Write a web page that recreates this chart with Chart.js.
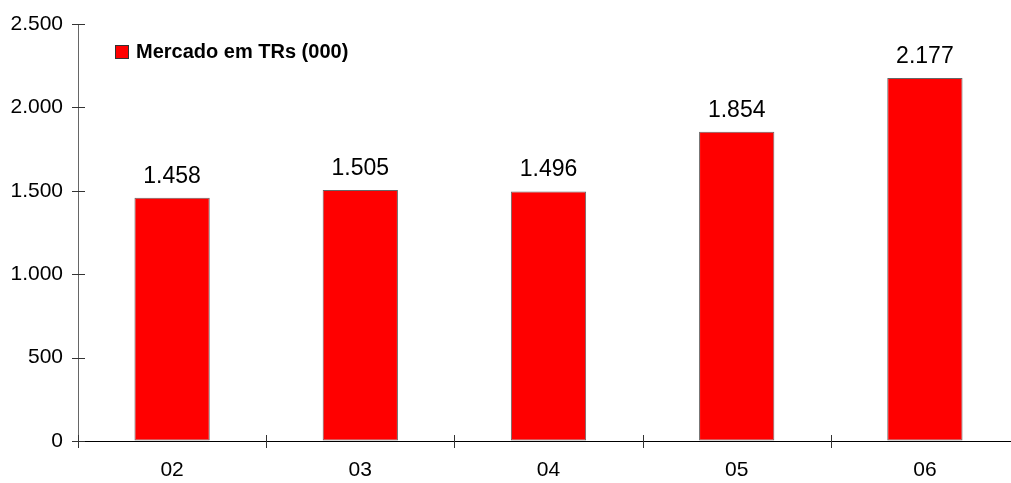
<!DOCTYPE html>
<html><head><meta charset="utf-8">
<script src="https://cdn.jsdelivr.net/npm/chart.js@4/dist/chart.umd.min.js"></script>
<style>
html,body{margin:0;padding:0;background:#fff;overflow:hidden;}
#wrap{width:1011px;height:483px;overflow:hidden;position:relative;}
canvas{display:block;}
</style></head><body>
<div id="wrap"><canvas id="c" width="1030" height="483"></canvas></div>
<script>
const categories = ['02','03','04','05','06'];
const seriesLabel = 'Mercado em TRs (000)';
const values = [1458, 1505, 1496, 1854, 2177];
const yMin = 0, yMax = 2500, yStep = 500;

const FONT = '"Liberation Sans", Arial, sans-serif';
function fmt(v){ return String(v).replace(/\B(?=(\d{3})+(?!\d))/g, '.'); }

const labelPlugin = {
  id: 'labels',
  afterDraw(chart){
    const ctx = chart.ctx;
    const meta = chart.getDatasetMeta(0);
    const ys = chart.scales.y, xs = chart.scales.x;
    const ca = chart.chartArea;
    ctx.save();
    ctx.strokeStyle = '#333';
    ctx.lineWidth = 1;
    // crossing tick marks on the value axis
    ys.ticks.forEach(t => {
      const py = Math.round(ys.getPixelForValue(t.value)) + 0.5;
      ctx.beginPath();
      ctx.moveTo(ca.left - 6, py);
      ctx.lineTo(ca.left + 7, py);
      ctx.stroke();
    });
    // crossing tick marks on the category axis (at category boundaries)
    const step = xs.getPixelForValue(1) - xs.getPixelForValue(0);
    for (let i = 0; i <= categories.length; i++) {
      const px = Math.round(xs.getPixelForValue(i) - step / 2) + 0.5;
      ctx.beginPath();
      ctx.moveTo(px, ca.bottom - 6);
      ctx.lineTo(px, ca.bottom + 7);
      ctx.stroke();
    }
    // value labels
    ctx.font = '23px ' + FONT;
    ctx.fillStyle = '#000';
    ctx.textAlign = 'center';
    ctx.textBaseline = 'alphabetic';
    meta.data.forEach((bar, i) => {
      ctx.fillText(fmt(chart.data.datasets[0].data[i]), bar.x, bar.y - 15);
    });
    // legend
    ctx.fillStyle = '#ff0000';
    ctx.fillRect(115.5, 45.5, 13, 13);
    ctx.strokeStyle = '#333';
    ctx.strokeRect(115.5, 45.5, 13, 13);
    ctx.fillStyle = '#000';
    ctx.font = 'bold 20px ' + FONT;
    ctx.textAlign = 'left';
    ctx.textBaseline = 'middle';
    ctx.fillText(chart.data.datasets[0].label, 136, 52);
    ctx.restore();
  }
};

new Chart(document.getElementById('c'), {
  type: 'bar',
  data: {
    labels: categories,
    datasets: [{
      label: seriesLabel,
      data: values,
      backgroundColor: '#ff0000',
      borderColor: '#666666',
      borderWidth: 1,
      borderSkipped: false,
      barPercentage: 0.4,
      categoryPercentage: 1.0
    }]
  },
  options: {
    responsive: false,
    animation: false,
    layout: { padding: { top: 24, right: 11, left: 0, bottom: 0 } },
    plugins: { legend: { display: false }, tooltip: { enabled: false } },
    scales: {
      x: {
        offset: true,
        grid: { offset: true, drawOnChartArea: false, drawTicks: false },
        border: { color: '#000', width: 1 },
        ticks: { font: { family: FONT, size: 21 }, color: '#000', padding: 17 },
        afterFit(s){ s.height = 42; }
      },
      y: {
        min: yMin, max: yMax,
        grid: { drawOnChartArea: false, drawTicks: false },
        border: { color: '#666', width: 1 },
        ticks: { stepSize: yStep, font: { family: FONT, size: 21 }, color: '#000', padding: 15, callback: v => fmt(v) },
        afterFit(s){ s.width = 78; s.paddingTop = 0; s.paddingBottom = 0; }
      }
    }
  },
  plugins: [labelPlugin]
});
</script>
</body></html>
